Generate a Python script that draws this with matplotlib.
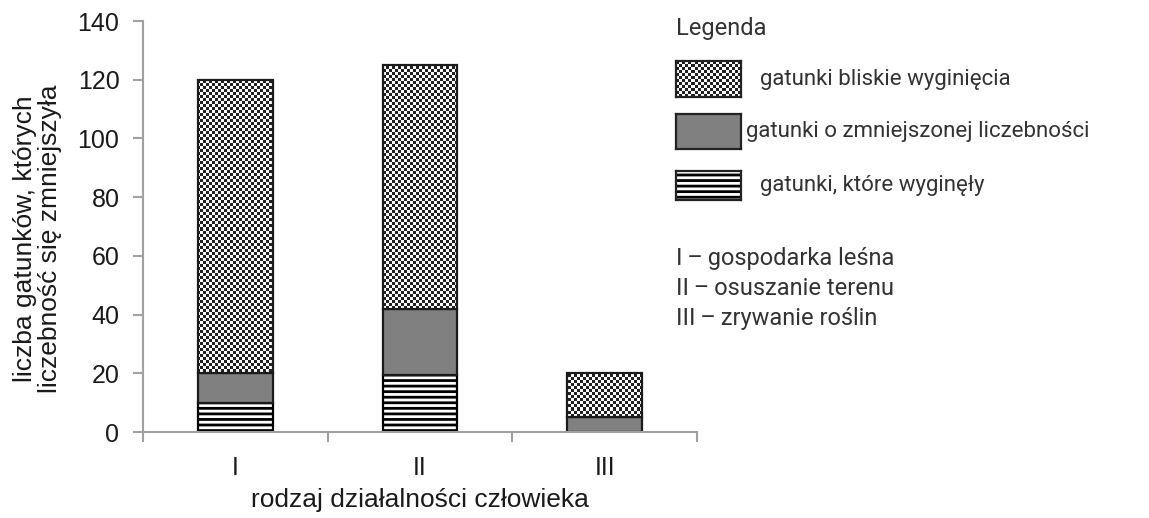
import numpy as np
import matplotlib.pyplot as plt
from matplotlib.patches import Rectangle

plt.rcParams['font.family'] = ['Liberation Sans', 'DejaVu Sans']
plt.rcParams['hatch.linewidth'] = 2.0

categories = ['I', 'II', 'III']
wyginely = [10, 19.5, 0]
zmniejszone = [10, 22.5, 5]
bliskie = [100, 83, 15]

legend_labels = ['gatunki bliskie wyginięcia',
                 'gatunki o zmniejszonej liczebności',
                 'gatunki, które wyginęły']
key_labels = ['I\u2009–\u2009gospodarka leśna', 'II\u2009–\u2009osuszanie terenu',
              'III\u2009–\u2009zrywanie roślin']

W, H = 1149, 518
fig = plt.figure(figsize=(W / 100, H / 100), dpi=100)
ax = fig.add_axes([143 / W, 1 - 432 / H, 554 / W, 411 / H])

x = np.arange(len(categories))

# checker texture, ~3 px cells
def checker(nx, ny):
    return (np.add.outer(np.arange(ny), np.arange(nx)) % 2).astype(float)

tex = checker(185, 137)

b1 = ax.bar(x, wyginely, width=0.405, color='white', edgecolor='black',
            hatch='---', linewidth=1.6)
b2 = ax.bar(x, zmniejszone, width=0.405, bottom=wyginely, color='#808080',
            edgecolor='#1a1a1a', linewidth=1.6)
bottom3 = np.array(wyginely) + np.array(zmniejszone)
b3 = ax.bar(x, bliskie, width=0.405, bottom=bottom3, color='none',
            edgecolor='#1a1a1a', linewidth=1.6, zorder=3)
for p in b3.patches:
    im = ax.imshow(tex, cmap='gray', extent=(-0.5, 2.5, 0, 140), aspect='auto',
                   interpolation='nearest', zorder=2, vmin=-0.15, vmax=1)
    im.set_clip_path(p)

ax.set_xlim(-0.5, 2.5)
ax.set_ylim(0, 140)

for s in ['top', 'right']:
    ax.spines[s].set_visible(False)
for s in ['left', 'bottom']:
    ax.spines[s].set_color('#a0a0a0')
    ax.spines[s].set_linewidth(1.5)

ax.set_yticks(range(0, 141, 20))
ax.tick_params(axis='y', length=7, width=1.5, color='#a0a0a0', labelsize=18, pad=10,
               labelcolor='#1a1a1a')
ax.set_xticks([-0.5, 0.5, 1.5, 2.5])
ax.set_xticklabels([])
ax.set_xticks(x, minor=True)
ax.set_xticklabels(categories, minor=True)
ax.tick_params(axis='x', which='major', length=7, width=1.5, color='#a0a0a0')
ax.tick_params(axis='x', which='minor', length=0, labelsize=18, pad=17,
               labelcolor='#1a1a1a')

ax.set_xlabel('rodzaj działalności człowieka', fontsize=19, labelpad=6, color='#1a1a1a')
ax.set_ylabel('liczba gatunków, których\nliczebność się zmniejszyła', fontsize=19,
              linespacing=1.05, color='#1a1a1a')
ax.yaxis.set_label_coords(-81 / 554, 0.47)

# legend
lf = ['Roboto', 'DejaVu Sans']
fig.text(676 / W, 1 - 28 / H, 'Legenda', fontsize=17, va='center', ha='left',
         family=lf, color='#333333')
swatches = [(676, 61, 65, 36), (676, 114, 65, 35), (676, 171, 65, 29)]
text_x = [760, 746, 760]
for i, (sx, sy, sw, sh) in enumerate(swatches):
    sa = fig.add_axes([sx / W, 1 - (sy + sh) / H, sw / W, sh / H])
    sa.set_xticks([])
    sa.set_yticks([])
    for s in sa.spines.values():
        s.set_linewidth(1.6)
        s.set_color('#222222')
    if i == 0:
        sa.imshow(checker(21, 12), cmap='gray', aspect='auto',
                  interpolation='nearest', vmin=-0.15, vmax=1)
    elif i == 1:
        sa.set_facecolor('#808080')
    else:
        sa.add_patch(Rectangle((0, 0), 1, 1, transform=sa.transAxes,
                               facecolor='white', edgecolor='black', linewidth=0,
                               hatch='---'))
    fig.text(text_x[i] / W, 1 - (sy + sh / 2) / H, legend_labels[i],
             fontsize=16, va='center', ha='left', family=lf, color='#333333')

for i, t in enumerate(key_labels):
    fig.text(676 / W, 1 - (258 + 30.5 * i) / H, t, fontsize=17, va='center', ha='left',
             family=lf, color='#333333')

fig.savefig('out.png', dpi=100)
